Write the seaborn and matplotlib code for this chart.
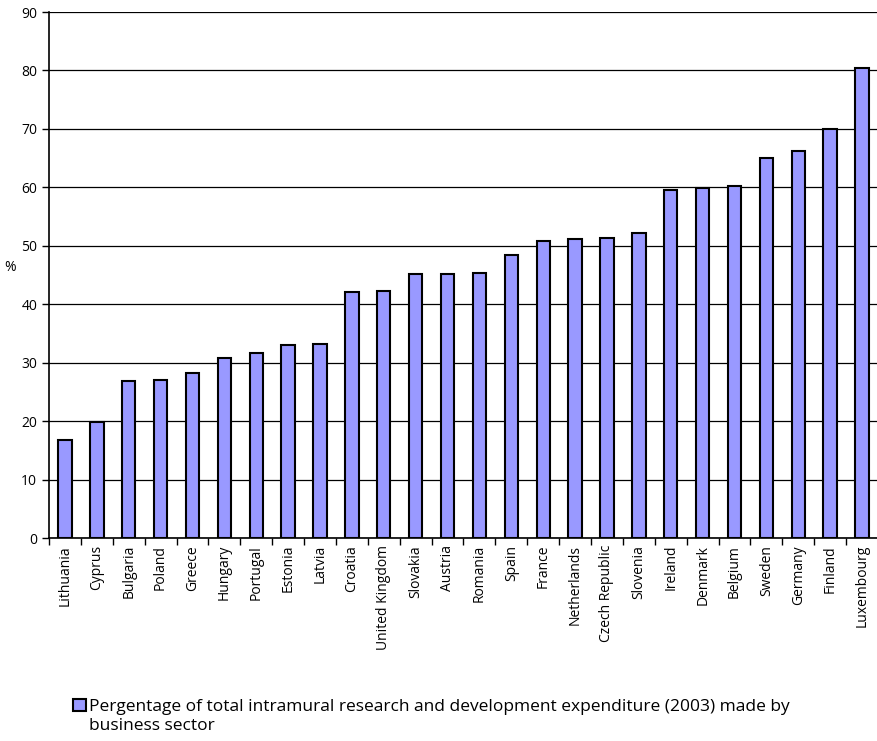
import matplotlib
matplotlib.use("Agg")
import matplotlib.pyplot as plt
import seaborn as sns
import pandas as pd
from matplotlib.ticker import MultipleLocator, FixedLocator

# Datos
paises = ["Lithuania", "Cyprus", "Bulgaria", "Poland", "Greece", "Hungary",
          "Portugal", "Estonia", "Latvia", "Croatia", "United Kingdom",
          "Slovakia", "Austria", "Romania", "Spain", "France", "Netherlands",
          "Czech Republic", "Slovenia", "Ireland", "Denmark", "Belgium",
          "Sweden", "Germany", "Finland", "Luxembourg"]
valores = [16.7, 19.9, 26.8, 27.1, 28.2, 30.8, 31.7, 33.0, 33.2, 42.1, 42.3,
           45.1, 45.2, 45.4, 48.4, 50.8, 51.1, 51.4, 52.2, 59.5, 59.9, 60.3,
           65.0, 66.3, 70.0, 80.4]
etiqueta = "Pergentage of total intramural research and development expenditure (2003) made by"
etiqueta_2 = "business sector"

df = pd.DataFrame({"Pais": paises, "Valor": valores})

sns.set_style("white")
plt.rcParams["font.family"] = ["Open Sans", "DejaVu Sans"]
plt.rcParams["text.color"] = "black"
plt.rcParams["axes.labelcolor"] = "black"
plt.rcParams["xtick.color"] = "black"
plt.rcParams["ytick.color"] = "black"

fig = plt.figure(figsize=(8.78, 7.41), dpi=100)
ax = fig.add_axes([49 / 878, 1 - 538 / 741, 829 / 878, 526 / 741])

sns.barplot(x="Pais", y="Valor", data=df, color="#9999ff", saturation=1,
            width=0.42, edgecolor="black", linewidth=1.5, label=etiqueta, ax=ax)
if ax.get_legend() is not None:
    ax.get_legend().remove()

ax.set_ylim(0, 90)
ax.set_xlim(-0.5, len(paises) - 0.5)
ax.yaxis.set_major_locator(MultipleLocator(10))
ax.yaxis.grid(True, color="black", linewidth=0.9)
ax.set_axisbelow(True)

ax.set_xlabel("")
ax.set_ylabel("%", rotation=0, fontsize=10, labelpad=8)
ax.set_xticks(range(len(paises)))
ax.set_xticklabels(paises, rotation=90, fontsize=10)
ax.xaxis.set_minor_locator(FixedLocator([i - 0.5 for i in range(len(paises) + 1)]))
ax.tick_params(axis="x", which="major", length=0, pad=5)
ax.tick_params(axis="x", which="minor", length=5, width=1, color="black", direction="out", bottom=True)
ax.tick_params(axis="y", length=5, width=1, color="black", direction="out", left=True, labelsize=10)

for lado in ["top", "right"]:
    ax.spines[lado].set_visible(False)
for lado in ["left", "bottom"]:
    ax.spines[lado].set_color("black")
    ax.spines[lado].set_linewidth(1.2)

# Leyenda: cuadro alineado con la primera línea, segunda línea como texto aparte
handles, labels = ax.get_legend_handles_labels()
leg = fig.legend(handles, labels, loc="upper left", bbox_to_anchor=(0.083, 0.057),
                 frameon=False, fontsize=12.5, handlelength=0.75, handleheight=0.75,
                 handletextpad=0.2, borderaxespad=0, borderpad=0)
fig.canvas.draw()
caja = leg.get_texts()[0].get_window_extent().transformed(fig.transFigure.inverted())
fig.text(caja.x0, caja.y0 - 0.004, etiqueta_2, fontsize=12.5, va="top", ha="left")

fig.savefig("out.png", dpi=100)
